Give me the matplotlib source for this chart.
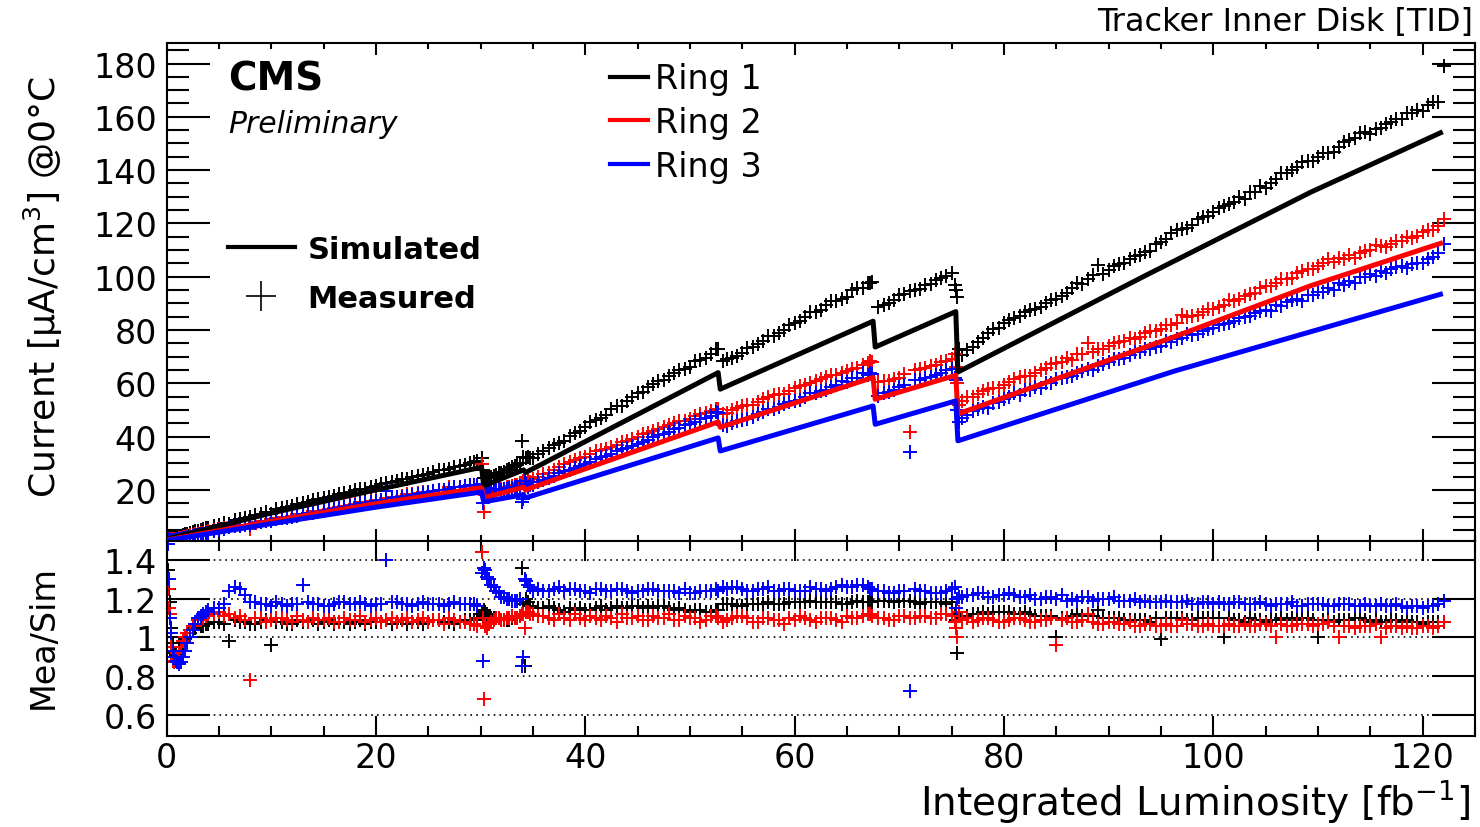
import matplotlib
matplotlib.use("Agg")
import matplotlib.pyplot as plt
from matplotlib.lines import Line2D
from matplotlib.ticker import MultipleLocator

# ---------------- data ----------------
lumi = [
    0.1, 0.3, 0.6, 0.9, 1.2, 1.6, 2.0, 2.5, 3.0, 3.5,
    4, 5, 6, 7, 8, 9, 10, 11, 12, 13,
    14, 15, 16, 17, 18, 19, 20, 21, 22, 23,
    24, 25, 26, 27, 28, 29, 29.7, 30.1, 30.3, 30.6,
    31, 31.5, 32, 32.5, 33, 33.5, 34.0, 34.2, 34.5, 35,
    36, 37, 38, 39, 40, 41, 42, 43, 44, 45,
    46, 47, 48, 49, 50, 51, 52, 52.7, 53.2, 54,
    55, 56, 57, 58, 59, 60, 61, 62, 63, 64,
    65, 66, 67, 67.4, 68, 69, 70, 71, 72, 73,
    74, 75, 75.3, 75.5, 75.7, 76, 77, 78, 79, 80,
    81, 82, 83, 84, 85, 86, 87, 88, 89, 90,
    91, 92, 93, 94, 95, 96, 97, 98, 99, 100,
    101, 102, 103, 104, 105, 106, 107, 108, 109, 110,
    111, 112, 113, 114, 115, 116, 117, 118, 119, 120,
    121, 122]

ring1_meas = [
    2.1, 2.1, 2.0, 2.2, 2.5, 3.0, 3.5, 4.2, 4.7, 5.2,
    5.8, 6.9, 7.3, 9.1, 10.0, 11.1, 10.9, 13.2, 13.9, 15.0,
    16.1, 17.0, 17.7, 18.8, 19.8, 20.4, 21.6, 22.7, 23.4, 24.1,
    25.3, 26.1, 27.3, 28.0, 28.8, 30.1, 31.0, 32.0, 24.5, 24.6,
    24.9, 25.7, 26.4, 27.3, 28.4, 29.3, 38.2, 23.4, 32.3, 32.1,
    34.5, 36.8, 38.5, 41.2, 43.5, 46.2, 48.1, 51.4, 53.5, 56.2,
    58.5, 60.8, 62.9, 65.0, 66.0, 68.8, 71.0, 72.8, 68.5, 69.5,
    71.2, 73.8, 76.0, 77.8, 80.1, 82.5, 85.0, 86.8, 89.2, 91.0,
    92.5, 95.8, 97.5, 98.0, 88.5, 90.2, 93.0, 94.5, 95.2, 97.3,
    99.6, 101.5, 97.0, 92.5, 73.0, 70.5, 73.5, 77.0, 80.5, 82.6,
    84.5, 86.9, 87.8, 90.0, 91.8, 94.0, 97.5, 99.2, 104.5, 102.5,
    104.8, 106.5, 108.3, 109.5, 113.0, 116.5, 118.0, 119.5, 122.5, 124.3,
    126.5, 128.0, 129.3, 131.9, 133.1, 136.8, 139.0, 141.2, 143.5, 144.8,
    146.4, 148.5, 151.2, 154.0, 153.6, 155.9, 158.0, 159.2, 161.5, 162.0,
    165.5, 179.0]

ring2_meas = [
    1.6, 1.6, 1.4, 1.6, 1.8, 2.3, 2.7, 3.2, 3.6, 4.0,
    4.5, 5.3, 6.0, 6.8, 5.3, 8.3, 8.9, 9.8, 10.3, 11.1,
    11.9, 12.5, 13.2, 14.1, 14.7, 15.2, 16.3, 16.8, 17.3, 18.3,
    18.7, 19.2, 20.1, 20.9, 21.2, 21.6, 21.8, 29.6, 11.6, 18.2,
    19.0, 19.9, 20.3, 20.9, 21.6, 21.9, 22.7, 21.4, 23.5, 24.0,
    26.0, 27.5, 29.8, 31.2, 32.5, 34.6, 35.2, 37.0, 38.4, 39.8,
    41.5, 43.0, 44.2, 45.8, 46.5, 48.4, 49.5, 50.5, 48.5, 49.8,
    51.5, 52.0, 54.2, 55.6, 56.0, 58.4, 59.5, 60.8, 62.5, 63.2,
    64.5, 65.8, 67.5, 68.0, 60.5, 61.0, 62.0, 41.7, 65.5, 66.5,
    67.8, 69.0, 71.0, 60.0, 52.0, 53.5, 54.8, 57.0, 58.2, 59.5,
    61.5, 62.8, 64.0, 65.8, 67.5, 69.5, 71.0, 75.3, 72.8, 74.0,
    75.5, 77.0, 77.5, 79.7, 80.4, 82.0, 85.5, 85.2, 86.8, 88.0,
    89.5, 90.8, 92.8, 94.0, 96.5, 97.8, 99.0, 101.5, 102.8, 104.2,
    106.6, 106.9, 108.0, 108.8, 110.2, 111.6, 112.3, 113.5, 114.6, 116.6,
    117.5, 121.6]

ring3_meas = [
    1.5, 1.3, 1.3, 1.4, 1.55, 1.9, 2.3, 2.8, 3.2, 3.6,
    4.0, 4.8, 5.9, 6.6, 7.0, 7.8, 8.5, 9.3, 9.9, 10.8,
    11.4, 12.1, 12.8, 13.6, 14.3, 15.1, 15.8, 19.7, 17.2, 17.7,
    18.5, 19.1, 19.8, 20.4, 21.1, 21.8, 22.0, 22.3, 21.0, 20.5,
    20.2, 20.1, 20.0, 20.5, 20.7, 21.0, 15.4, 23.5, 21.2, 22.0,
    23.6, 25.3, 26.9, 28.3, 29.8, 31.4, 32.8, 34.5, 35.7, 37.4,
    38.8, 40.5, 41.9, 43.4, 44.9, 46.6, 47.8, 49.0, 44.3, 45.1,
    46.3, 47.5, 49.4, 50.4, 52.1, 53.3, 55.0, 56.5, 57.6, 59.4,
    60.3, 62.0, 63.2, 63.5, 55.4, 56.8, 58.5, 34.3, 61.4, 62.4,
    63.7, 65.3, 62.0, 50.0, 45.5, 47.0, 49.5, 51.0, 52.5, 54.0,
    56.2, 57.3, 58.5, 60.0, 61.6, 62.5, 64.0, 65.5, 66.6, 68.0,
    69.2, 70.6, 71.8, 72.8, 74.0, 75.6, 76.9, 78.3, 79.6, 80.8,
    82.2, 83.4, 84.8, 86.5, 87.4, 89.2, 90.4, 91.8, 93.0, 94.3,
    95.9, 97.5, 98.5, 99.8, 101.0, 102.3, 103.0, 104.0, 104.9, 105.3,
    107.3, 112.2]

ring1_ratio = [
    1.35, 1.18, 0.97, 0.91, 0.93, 0.97, 1.00, 1.05, 1.07, 1.06,
    1.07, 1.08, 0.98, 1.08, 1.07, 1.08, 0.96, 1.08, 1.07, 1.08,
    1.09, 1.08, 1.07, 1.08, 1.08, 1.07, 1.08, 1.09, 1.08, 1.07,
    1.08, 1.08, 1.09, 1.08, 1.08, 1.09, 1.10, 1.12, 1.14, 1.12,
    1.10, 1.10, 1.09, 1.09, 1.10, 1.10, 1.36, 0.85, 1.18, 1.15,
    1.15, 1.15, 1.13, 1.14, 1.14, 1.15, 1.14, 1.16, 1.15, 1.16,
    1.16, 1.16, 1.15, 1.15, 1.13, 1.14, 1.13, 1.14, 1.17, 1.17,
    1.16, 1.17, 1.17, 1.17, 1.17, 1.18, 1.18, 1.18, 1.18, 1.18,
    1.17, 1.19, 1.18, 1.18, 1.19, 1.19, 1.19, 1.19, 1.17, 1.18,
    1.18, 1.18, 1.12, 0.92, 1.13, 1.10, 1.12, 1.13, 1.13, 1.13,
    1.12, 1.13, 1.11, 1.11, 1.00, 1.10, 1.12, 1.11, 1.14, 1.10,
    1.10, 1.09, 1.09, 1.08, 0.99, 1.10, 1.10, 1.09, 1.10, 1.10,
    1.00, 1.09, 1.08, 1.09, 1.08, 1.09, 1.09, 1.09, 1.10, 1.00,
    1.09, 1.09, 1.09, 1.10, 1.08, 1.08, 1.09, 1.08, 1.08, 1.07,
    1.08, 1.08]

ring2_ratio = [
    1.25, 1.12, 0.88, 0.88, 0.92, 0.98, 1.02, 1.06, 1.09, 1.10,
    1.12, 1.13, 1.12, 1.11, 0.78, 1.10, 1.09, 1.10, 1.08, 1.09,
    1.10, 1.09, 1.08, 1.10, 1.09, 1.08, 1.10, 1.09, 1.08, 1.10,
    1.09, 1.08, 1.09, 1.10, 1.08, 1.07, 1.06, 1.44, 0.68, 1.05,
    1.08, 1.10, 1.09, 1.10, 1.11, 1.10, 1.12, 1.05, 1.13, 1.12,
    1.11, 1.09, 1.10, 1.12, 1.09, 1.10, 1.11, 1.08, 1.10, 1.11,
    1.09, 1.10, 1.12, 1.09, 1.10, 1.08, 1.11, 1.10, 1.08, 1.10,
    1.11, 1.08, 1.10, 1.09, 1.07, 1.09, 1.10, 1.08, 1.10, 1.09,
    1.11, 1.10, 1.12, 1.11, 1.10, 1.09, 1.11, 1.10, 1.11, 1.10,
    1.12, 1.11, 1.08, 1.00, 1.13, 1.09, 1.08, 1.10, 1.09, 1.08,
    1.10, 1.09, 1.08, 1.09, 0.96, 1.10, 1.08, 1.12, 1.07, 1.08,
    1.07, 1.08, 1.06, 1.07, 1.06, 1.06, 1.09, 1.07, 1.06, 1.06,
    1.06, 1.06, 1.07, 1.06, 1.07, 1.00, 1.06, 1.07, 1.07, 1.07,
    1.08, 1.00, 1.06, 1.06, 1.06, 1.00, 1.06, 1.05, 1.05, 1.06,
    1.05, 1.08]

ring3_ratio = [
    1.48, 1.10, 0.93, 0.88, 0.86, 0.90, 0.97, 1.04, 1.10, 1.12,
    1.14, 1.15, 1.24, 1.25, 1.18, 1.17, 1.16, 1.17, 1.17, 1.27,
    1.17, 1.16, 1.17, 1.18, 1.17, 1.17, 1.17, 1.40, 1.18, 1.17,
    1.17, 1.17, 1.17, 1.17, 1.17, 1.17, 1.16, 1.33, 1.36, 1.31,
    1.27, 1.24, 1.21, 1.20, 1.19, 1.19, 0.85, 1.30, 1.27, 1.24,
    1.24, 1.25, 1.24, 1.25, 1.24, 1.25, 1.24, 1.25, 1.24, 1.24,
    1.25, 1.24, 1.24, 1.23, 1.23, 1.24, 1.24, 1.24, 1.26, 1.26,
    1.25, 1.24, 1.25, 1.24, 1.25, 1.24, 1.24, 1.25, 1.24, 1.26,
    1.26, 1.27, 1.26, 1.25, 1.24, 1.23, 1.24, 0.72, 1.24, 1.23,
    1.23, 1.25, 1.26, 1.20, 1.21, 1.21, 1.22, 1.23, 1.21, 1.22,
    1.22, 1.21, 1.20, 1.21, 1.20, 1.19, 1.19, 1.21, 1.20, 1.20,
    1.19, 1.19, 1.18, 1.18, 1.18, 1.18, 1.18, 1.17, 1.18, 1.17,
    1.17, 1.18, 1.17, 1.17, 1.17, 1.17, 1.17, 1.16, 1.17, 1.17,
    1.16, 1.17, 1.17, 1.16, 1.16, 1.17, 1.16, 1.16, 1.16, 1.15,
    1.16, 1.19]

# second set of read-off measurements (in between the first set)
lumi_extra = [
    0.2, 0.45, 0.75, 1.05, 1.4, 1.8, 2.25, 2.75, 3.25, 3.75,
    4.5, 5.5, 6.5, 7.5, 8.5, 9.5, 10.5, 11.5, 12.5, 13.5,
    14.5, 15.5, 16.5, 17.5, 18.5, 19.5, 20.5, 21.5, 22.5, 23.5,
    24.5, 25.5, 26.5, 27.5, 28.5, 29.35, 30.2, 30.45, 30.8, 31.25,
    31.75, 32.25, 32.75, 33.25, 33.75, 34.1, 34.35, 34.75, 35.5, 36.5,
    37.5, 38.5, 39.5, 40.5, 41.5, 42.5, 43.5, 44.5, 45.5, 46.5,
    47.5, 48.5, 49.5, 50.5, 51.5, 52.5, 53.5, 54.5, 55.5, 56.5,
    57.5, 58.5, 59.5, 60.5, 61.5, 62.5, 63.5, 64.5, 65.5, 66.5,
    67.2, 68.5, 69.5, 70.5, 71.5, 72.5, 73.5, 74.5, 75.4, 76.5,
    77.5, 78.5, 79.5, 80.5, 81.5, 82.5, 83.5, 84.5, 85.5, 86.5,
    87.5, 88.5, 89.5, 90.5, 91.5, 92.5, 93.5, 94.5, 95.5, 96.5,
    97.5, 98.5, 99.5, 100.5, 101.5, 102.5, 103.5, 104.5, 105.5, 106.5,
    107.5, 108.5, 109.5, 110.5, 111.5, 112.5, 113.5, 114.5, 115.5, 116.5,
    117.5, 118.5, 119.5, 120.5, 121.5]

ring1_meas_extra = [
    2.1, 2.0, 2.0, 2.25, 2.75, 3.3, 3.8, 4.4, 5.0, 5.6,
    6.4, 7.4, 8.6, 9.5, 10.7, 11.6, 12.8, 13.5, 14.7, 15.4,
    16.6, 17.3, 18.4, 19.2, 20.3, 21.0, 22.2, 22.9, 24.0, 24.7,
    25.7, 26.6, 27.5, 28.4, 29.3, 30.4, 27.5, 24.5, 24.8, 25.3,
    26.2, 26.8, 27.7, 28.8, 30.0, 32.2, 31.9, 31.8, 33.3, 35.7,
    37.6, 40.3, 42.2, 45.3, 46.9, 50.2, 51.6, 55.0, 56.6, 59.6,
    61.2, 64.0, 65.4, 68.3, 69.4, 72.8, 69.3, 70.4, 73.3, 74.8,
    77.6, 79.0, 81.9, 83.4, 86.6, 87.6, 90.7, 91.6, 94.9, 95.8,
    97.8, 89.3, 91.4, 93.6, 95.0, 96.8, 98.8, 100.2, 95.0, 72.5,
    75.4, 79.0, 80.6, 83.9, 85.1, 87.6, 88.6, 91.4, 92.6, 95.6,
    97.4, 100.6, 101.1, 104.2, 105.1, 107.8, 109.4, 112.4, 114.1, 117.7,
    118.2, 121.6, 122.6, 125.9, 127.4, 129.9, 131.6, 134.2, 135.2, 138.9,
    140.1, 143.2, 143.6, 146.4, 146.8, 150.4, 152.1, 154.2, 155.4, 157.4,
    159.1, 161.4, 162.4, 164.4, 165.6]

ring2_meas_extra = [
    1.55, 1.45, 1.5, 1.7, 2.1, 2.5, 2.9, 3.3, 3.8, 4.2,
    4.9, 5.6, 6.3, 7.0, 7.9, 8.5, 9.4, 10.0, 10.9, 11.3,
    12.2, 13.0, 13.5, 14.4, 15.3, 15.8, 16.3, 17.3, 17.8, 18.3,
    19.3, 19.7, 20.0, 21.0, 21.5, 21.8, 20.9, 18.2, 18.7, 19.5,
    20.2, 20.5, 21.2, 21.8, 22.5, 23.5, 22.7, 23.1, 24.8, 26.5,
    28.4, 30.6, 31.8, 33.5, 34.8, 36.0, 37.8, 39.0, 40.8, 42.2,
    43.6, 45.0, 46.0, 47.6, 48.8, 50.2, 49.0, 50.6, 51.8, 53.1,
    54.9, 55.8, 57.2, 59.0, 60.2, 61.6, 63.0, 64.0, 65.5, 66.8,
    68.3, 60.8, 61.5, 63.5, 65.0, 65.8, 67.0, 68.5, 66.0, 54.8,
    55.8, 57.9, 58.3, 60.4, 62.5, 62.9, 65.0, 67.1, 68.0, 68.9,
    71.1, 71.9, 72.8, 75.0, 75.8, 76.5, 78.8, 79.5, 81.7, 82.5,
    84.9, 85.5, 88.0, 88.6, 91.1, 91.8, 93.4, 95.8, 96.5, 99.0,
    99.5, 102.1, 102.7, 105.0, 105.4, 106.7, 107.1, 109.5, 111.9, 111.1,
    113.5, 114.9, 115.2, 117.7, 118.9]

ring3_meas_extra = [
    1.47, 1.33, 1.35, 1.44, 1.65, 1.98, 2.42, 2.92, 3.39, 3.8,
    4.4, 5.3, 6.4, 7.0, 7.6, 8.2, 9.0, 9.5, 10.3, 11.2,
    11.8, 12.4, 13.3, 13.9, 14.9, 15.3, 16.1, 16.9, 17.4, 18.0,
    18.9, 19.4, 20.0, 20.9, 21.4, 22.0, 15.2, 21.1, 20.7, 20.4,
    20.3, 20.4, 20.6, 20.9, 21.6, 16.4, 22.1, 22.0, 23.1, 24.4,
    26.3, 27.6, 29.0, 30.3, 32.3, 33.5, 35.4, 36.3, 38.1, 39.9,
    41.0, 42.7, 44.5, 45.3, 47.1, 49.1, 44.1, 46.0, 46.6, 48.5,
    50.3, 51.0, 52.8, 53.8, 56.2, 57.1, 58.6, 61.0, 62.0, 63.9,
    64.0, 56.4, 57.4, 59.3, 61.1, 62.1, 63.0, 65.0, 61.4, 48.2,
    50.2, 50.9, 52.8, 54.9, 55.5, 57.5, 58.1, 60.1, 62.1, 62.6,
    64.7, 65.1, 67.2, 69.3, 69.6, 71.8, 72.7, 73.5, 75.7, 76.5,
    78.5, 78.5, 80.5, 81.9, 82.5, 84.5, 85.2, 87.2, 87.0, 89.0,
    91.2, 90.9, 93.0, 94.4, 94.9, 97.0, 97.6, 99.7, 100.1, 101.4,
    103.7, 103.2, 105.3, 106.7, 108.9]

ring1_ratio_extra = [
    1.25, 1.05, 0.92, 0.90, 0.95, 0.99, 1.02, 1.05, 1.06, 1.07,
    1.08, 1.07, 1.09, 1.08, 1.07, 1.09, 1.08, 1.07, 1.09, 1.08,
    1.07, 1.09, 1.08, 1.07, 1.09, 1.08, 1.08, 1.07, 1.09, 1.08,
    1.07, 1.09, 1.08, 1.07, 1.09, 1.09, 1.11, 1.13, 1.11, 1.10,
    1.10, 1.09, 1.09, 1.10, 1.11, 1.17, 1.20, 1.16, 1.15, 1.16,
    1.14, 1.15, 1.15, 1.14, 1.16, 1.15, 1.15, 1.16, 1.15, 1.15,
    1.16, 1.14, 1.14, 1.14, 1.13, 1.14, 1.17, 1.16, 1.17, 1.17,
    1.18, 1.17, 1.18, 1.18, 1.19, 1.18, 1.18, 1.17, 1.18, 1.18,
    1.18, 1.19, 1.18, 1.19, 1.18, 1.18, 1.18, 1.17, 1.09, 1.11,
    1.12, 1.12, 1.13, 1.13, 1.12, 1.12, 1.11, 1.11, 1.10, 1.11,
    1.11, 1.11, 1.10, 1.10, 1.09, 1.09, 1.09, 1.10, 1.10, 1.10,
    1.09, 1.10, 1.10, 1.10, 1.10, 1.09, 1.10, 1.09, 1.09, 1.10,
    1.10, 1.10, 1.09, 1.09, 1.08, 1.09, 1.10, 1.09, 1.09, 1.08,
    1.09, 1.09, 1.08, 1.08, 1.08]

ring2_ratio_extra = [
    1.15, 0.95, 0.87, 0.89, 0.95, 1.00, 1.04, 1.07, 1.09, 1.11,
    1.12, 1.11, 1.10, 1.09, 1.10, 1.08, 1.10, 1.09, 1.11, 1.08,
    1.09, 1.10, 1.08, 1.09, 1.11, 1.09, 1.08, 1.10, 1.09, 1.08,
    1.10, 1.09, 1.07, 1.09, 1.08, 1.07, 1.10, 1.06, 1.07, 1.09,
    1.10, 1.09, 1.10, 1.10, 1.11, 1.12, 1.13, 1.12, 1.11, 1.10,
    1.12, 1.09, 1.10, 1.11, 1.09, 1.10, 1.12, 1.10, 1.09, 1.11,
    1.10, 1.09, 1.11, 1.10, 1.09, 1.11, 1.09, 1.11, 1.10, 1.08,
    1.10, 1.09, 1.10, 1.11, 1.09, 1.10, 1.10, 1.08, 1.10, 1.11,
    1.12, 1.10, 1.09, 1.11, 1.10, 1.11, 1.10, 1.12, 1.05, 1.10,
    1.09, 1.10, 1.08, 1.09, 1.10, 1.08, 1.09, 1.10, 1.09, 1.08,
    1.09, 1.08, 1.07, 1.08, 1.07, 1.06, 1.07, 1.06, 1.07, 1.06,
    1.07, 1.06, 1.07, 1.06, 1.07, 1.06, 1.06, 1.07, 1.06, 1.07,
    1.06, 1.07, 1.06, 1.07, 1.06, 1.06, 1.05, 1.06, 1.07, 1.05,
    1.06, 1.06, 1.05, 1.06, 1.06]

ring3_ratio_extra = [
    1.30, 1.02, 0.90, 0.87, 0.87, 0.93, 1.00, 1.07, 1.11, 1.13,
    1.15, 1.17, 1.26, 1.22, 1.18, 1.17, 1.18, 1.16, 1.17, 1.18,
    1.17, 1.16, 1.18, 1.17, 1.18, 1.16, 1.17, 1.18, 1.17, 1.16,
    1.18, 1.17, 1.16, 1.18, 1.17, 1.17, 0.88, 1.35, 1.30, 1.26,
    1.23, 1.21, 1.20, 1.19, 1.20, 0.90, 1.29, 1.26, 1.25, 1.24,
    1.26, 1.25, 1.24, 1.23, 1.25, 1.24, 1.25, 1.23, 1.24, 1.25,
    1.24, 1.24, 1.25, 1.23, 1.24, 1.25, 1.25, 1.26, 1.24, 1.25,
    1.26, 1.24, 1.25, 1.24, 1.26, 1.25, 1.25, 1.27, 1.26, 1.27,
    1.25, 1.24, 1.23, 1.24, 1.25, 1.24, 1.23, 1.24, 1.15, 1.22,
    1.23, 1.21, 1.22, 1.23, 1.21, 1.22, 1.20, 1.21, 1.22, 1.20,
    1.21, 1.19, 1.20, 1.21, 1.19, 1.20, 1.19, 1.18, 1.19, 1.18,
    1.19, 1.17, 1.18, 1.18, 1.17, 1.18, 1.17, 1.18, 1.16, 1.17,
    1.18, 1.16, 1.17, 1.17, 1.16, 1.17, 1.16, 1.17, 1.16, 1.16,
    1.17, 1.15, 1.16, 1.16, 1.17]

# simulated curves (vertices)
sim1_x = [0, 10, 20, 30.1, 30.3, 34.1, 34.3, 52.7, 52.9, 67.5, 67.7, 75.4, 75.6, 93.4, 109.3, 121.7]
sim1_y = [1.5, 11.3, 20.0, 28.5, 21.5, 27.5, 26.5, 64.0, 57.8, 83.3, 73.6, 86.9, 64.2, 100.2, 131.7, 154.0]
sim2_x = [0, 10, 20, 30.1, 30.3, 34.1, 34.3, 52.7, 52.9, 67.5, 67.7, 75.4, 75.6, 96.3, 109.3, 121.7]
sim2_y = [1.2, 8.2, 14.8, 20.8, 17.0, 21.0, 20.0, 45.5, 43.5, 62.2, 54.0, 63.0, 48.5, 77.5, 96.6, 112.5]
sim3_x = [0, 10, 20, 30.1, 30.3, 34.1, 34.3, 52.7, 52.9, 67.5, 67.7, 75.4, 75.6, 96.3, 121.7]
sim3_y = [1.0, 7.3, 13.5, 19.2, 15.5, 18.2, 17.0, 39.5, 34.6, 51.5, 44.6, 53.4, 38.4, 64.6, 93.4]

ring_names = ["Ring 1", "Ring 2", "Ring 3"]
ring_colors = ["#000000", "#ff0000", "#0000ff"]
ratio_ticks = [0.6, 0.8, 1.0, 1.2, 1.4]
ratio_labels = ["0.6", "0.8", "1", "1.2", "1.4"]

# ---------------- figure ----------------
plt.rcParams["font.family"] = ["DejaVu Sans"]
plt.rcParams["mathtext.fontset"] = "dejavusans"

fig = plt.figure(figsize=(14.8, 8.28), dpi=100)
L, W = 166.5 / 1480, (1475 - 166.5) / 1480
ax = fig.add_axes([L, 1 - 541.5 / 828, W, (541.5 - 44) / 828])
axr = fig.add_axes([L, 1 - 737 / 828, W, (737 - 541.5) / 828])

meas = [ring1_meas, ring2_meas, ring3_meas]
meas_x = [ring1_meas_extra, ring2_meas_extra, ring3_meas_extra]
ratios = [ring1_ratio, ring2_ratio, ring3_ratio]
ratios_x = [ring1_ratio_extra, ring2_ratio_extra, ring3_ratio_extra]
sims = [(sim1_x, sim1_y), (sim2_x, sim2_y), (sim3_x, sim3_y)]

MS, MEW = 10, 1.4
for i in range(3):
    for xs, ys in ((lumi, meas[i]), (lumi_extra, meas_x[i])):
        ax.plot(xs, ys, linestyle="none", marker="+", ms=MS, mew=MEW,
                color=ring_colors[i], zorder=2 + i * 0.1)
for i in range(3):
    ax.plot(sims[i][0], sims[i][1], color=ring_colors[i], lw=3.6,
            solid_joinstyle="round", zorder=3 + i * 0.1)

for yv in ratio_ticks:
    axr.axhline(yv, color="black", lw=1.2, linestyle=(0, (1, 2.5)), zorder=1)
for i in range(3):
    for xs, ys in ((lumi, ratios[i]), (lumi_extra, ratios_x[i])):
        axr.plot(xs, ys, linestyle="none", marker="+", ms=MS, mew=MEW,
                 color=ring_colors[i], zorder=2 + i * 0.1)

# axes limits & ticks
ax.set_xlim(0, 125)
ax.set_ylim(1, 187.7)
axr.set_xlim(0, 125)
axr.set_ylim(0.49, 1.5)

for a in (ax, axr):
    for s in a.spines.values():
        s.set_linewidth(1.5)
    a.xaxis.set_major_locator(MultipleLocator(20))
    a.xaxis.set_minor_locator(MultipleLocator(5))
    a.tick_params(which="both", direction="in", top=True, right=True,
                  width=1.5, labelsize=24, pad=7)

ax.yaxis.set_major_locator(MultipleLocator(20))
ax.yaxis.set_minor_locator(MultipleLocator(5))
ax.tick_params(axis="x", which="major", length=8.6, labelbottom=False)
ax.tick_params(axis="x", which="minor", length=4.3)
ax.tick_params(axis="y", which="major", length=31)
ax.tick_params(axis="y", which="minor", length=16)

axr.set_yticks(ratio_ticks)
axr.set_yticklabels(ratio_labels)
axr.tick_params(axis="x", which="major", length=14.4, pad=3.5)
axr.tick_params(axis="x", which="minor", length=7.2)
axr.tick_params(axis="y", which="major", length=31)
axr.tick_params(axis="y", which="minor", length=0)

# labels
fig.text(0.029, 1 - 287.5 / 828, "Current [µA/cm$^{3}$] @0°C", rotation=90,
         ha="center", va="center", fontsize=26)
fig.text(0.029, 1 - 637.5 / 828, "Mea/Sim", rotation=90,
         ha="center", va="center", fontsize=24)
fig.text(1470 / 1480, 3 / 828, "Integrated Luminosity [fb$^{-1}$]",
         ha="right", va="bottom", fontsize=28)
fig.text(1473 / 1480, 1 - 31 / 828, "Tracker Inner Disk [TID]",
         ha="right", va="baseline", fontsize=23)

ax.text(0.047, 0.9075, "CMS", transform=ax.transAxes, fontsize=28,
        fontweight="bold", va="baseline", ha="left")
ax.text(0.047, 0.821, "Preliminary", transform=ax.transAxes, fontsize=21.5,
        fontstyle="italic", va="baseline", ha="left")

ring_handles = [Line2D([], [], color=c, lw=3) for c in ring_colors]
leg1 = ax.legend(ring_handles, ring_names, loc="upper left",
                 bbox_to_anchor=(0.339, 0.961), frameon=False, fontsize=24,
                 handlelength=1.14, handletextpad=0.21, labelspacing=0.32,
                 borderpad=0, borderaxespad=0)
ax.add_artist(leg1)

type_handles = [Line2D([], [], color="black", lw=3),
                Line2D([], [], color="black", linestyle="none", marker="+",
                       ms=22, mew=1.2)]
leg2 = ax.legend(type_handles, ["Simulated", "Measured"], loc="upper left",
                 bbox_to_anchor=(0.047, 0.6137), frameon=False,
                 prop={"size": 22, "weight": "bold"},
                 handlelength=2.19, handletextpad=0.42, labelspacing=0.64,
                 borderpad=0, borderaxespad=0)

fig.savefig("out.png", dpi=100)
